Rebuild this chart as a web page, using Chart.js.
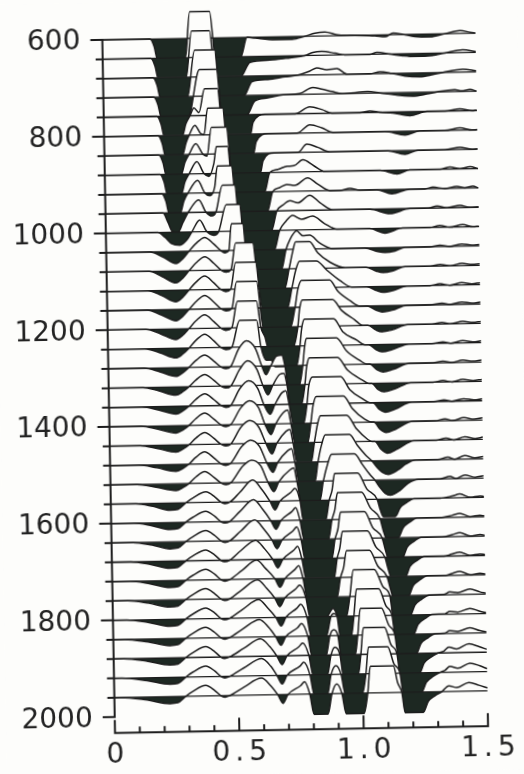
<!DOCTYPE html>
<html>
<head>
<meta charset="utf-8">
<script src="https://cdn.jsdelivr.net/npm/chart.js@4/dist/chart.umd.min.js"></script>
<style>
  html, body { margin: 0; padding: 0; background: #fdfdfb; overflow: hidden; }
  #plot { display: block; transform: rotate(-1.05deg); transform-origin: 50% 50%; }
</style>
</head>
<body>
<canvas id="plot" width="524" height="774"></canvas>
<script>
// VSP section, variable-area wiggle display.
// Each trace: [time (s), amplitude] pairs; amplitude in units of the trace spacing,
// positive = upward swing (open), negative = downward swing (filled).
const P = 1.38;   // clip level of positive swings
const N = -1.05;  // clip level of negative swings
const traceGap = 40;

const depths = [600, 640, 680, 720, 760, 800, 840, 880, 920, 960, 1000, 1040, 1080, 1120,
  1160, 1200, 1240, 1280, 1320, 1360, 1400, 1440, 1480, 1520, 1560, 1600, 1640, 1680,
  1720, 1760, 1800, 1840, 1880, 1920, 1960];

const tr600 = [[0,0],[0.192,0],[0.208,-0.4],[0.220,N],[0.332,N],[0.353,P],[0.433,P],[0.453,N],[0.554,N],[0.582,0],[0.614,-0.05],[0.694,-0.15],[0.763,-0.15],[0.815,0],[0.855,0.15],[0.895,0.2],[0.944,0.05],[0.996,0],[1.096,-0.05],[1.137,-0.1],[1.169,0.08],[1.209,0],[1.257,-0.12],[1.318,-0.15],[1.378,0],[1.438,0.15],[1.479,0.05],[1.5,0]];
const tr640 = [[0,0],[0.194,0],[0.210,-0.4],[0.222,N],[0.334,N],[0.359,P],[0.431,P],[0.451,N],[0.552,N],[0.592,-0.3],[0.672,-0.2],[0.753,-0.1],[0.813,0],[0.845,0.15],[0.881,0.2],[0.934,0.1],[0.974,0],[1.074,0],[1.103,0.1],[1.155,0],[1.207,-0.1],[1.255,-0.15],[1.324,-0.12],[1.376,0],[1.448,0.15],[1.5,0.05]];
const tr680 = [[0,0],[0.201,0],[0.217,-0.4],[0.229,N],[0.338,N],[0.370,P],[0.450,P],[0.470,N],[0.563,N],[0.599,-0.3],[0.663,-0.2],[0.732,-0.08],[0.784,0],[0.832,0.2],[0.860,0.35],[0.901,0.25],[0.941,0.3],[0.981,0],[1.073,0],[1.114,0.1],[1.162,0],[1.214,-0.15],[1.274,-0.2],[1.327,-0.1],[1.367,0],[1.447,0.15],[1.5,0.05]];
const tr720 = [[0,0],[0.203,0],[0.219,-0.4],[0.231,N],[0.340,N],[0.388,P],[0.456,P],[0.476,N],[0.573,N],[0.609,-0.3],[0.661,-0.15],[0.722,0],[0.790,0.05],[0.842,0.35],[0.878,0.25],[0.919,0.12],[0.959,0],[1.063,0.08],[1.112,0],[1.192,-0.15],[1.244,-0.2],[1.301,-0.1],[1.341,0],[1.413,0.1],[1.441,0.03],[1.474,0.1],[1.5,0]];
const tr760 = [[0,0],[0.214,0],[0.230,-0.4],[0.242,N],[0.314,N],[0.330,-0.4],[0.347,0],[0.363,0.4],[0.383,0.15],[0.407,P],[0.459,P],[0.479,N],[0.588,N],[0.600,-0.4],[0.648,0],[0.769,0],[0.829,0.35],[0.877,0.2],[0.918,0],[1.030,0],[1.070,0.08],[1.111,0],[1.163,-0.05],[1.231,-0.2],[1.300,0],[1.372,0],[1.432,0.1],[1.481,0],[1.5,0.02]];
const tr800 = [[0,0],[0.217,0],[0.233,-0.4],[0.245,N],[0.313,N],[0.329,-0.4],[0.342,0],[0.366,0.5],[0.390,0.05],[0.402,0.02],[0.418,P],[0.478,P],[0.498,N],[0.599,N],[0.611,-0.4],[0.659,0],[0.776,0],[0.828,0.42],[0.876,0.25],[0.921,0],[1.130,0],[1.210,-0.2],[1.270,0],[1.371,0],[1.431,0.12],[1.480,0],[1.5,0.02]];
const tr840 = [[0,0],[0.219,0],[0.235,-0.4],[0.247,N],[0.307,N],[0.323,-0.4],[0.340,0],[0.368,0.55],[0.396,0],[0.412,-0.1],[0.432,P],[0.492,P],[0.512,N],[0.625,N],[0.637,-0.4],[0.681,0],[0.778,0],[0.814,0.42],[0.858,0.25],[0.907,0],[1.140,0],[1.208,-0.2],[1.260,0],[1.369,0],[1.429,0.12],[1.478,0],[1.5,0.02]];
const tr880 = [[0,0],[0.222,0],[0.238,-0.4],[0.250,N],[0.306,N],[0.322,-0.4],[0.339,0],[0.371,0.62],[0.399,0],[0.419,-0.15],[0.439,0.5],[0.451,P],[0.495,P],[0.515,N],[0.640,N],[0.664,0],[0.696,0.15],[0.733,0.3],[0.761,0.32],[0.797,0.62],[0.841,0.3],[0.885,0],[1.107,0],[1.175,-0.2],[1.227,0],[1.348,0],[1.388,0.1],[1.428,0.02],[1.469,0.1],[1.5,0]];
const tr920 = [[0,0],[0.228,0],[0.244,-0.4],[0.256,N],[0.300,N],[0.316,-0.4],[0.333,0],[0.373,0.65],[0.401,0],[0.421,-0.15],[0.441,0.3],[0.453,P],[0.509,P],[0.530,N],[0.650,N],[0.674,0],[0.702,0.2],[0.731,0.36],[0.763,0.3],[0.815,0.68],[0.855,0.35],[0.904,0],[0.944,0],[0.984,0.1],[1.024,0],[1.093,0],[1.153,-0.22],[1.225,0],[1.286,0],[1.318,0.08],[1.366,0],[1.414,0.1],[1.446,0.02],[1.479,0.1],[1.5,0]];
const tr960 = [[0,0],[0.231,0],[0.251,-0.5],[0.267,-0.95],[0.291,-1.0],[0.311,-0.5],[0.332,0],[0.376,0.65],[0.404,0],[0.428,-0.2],[0.444,0],[0.472,P],[0.521,P],[0.541,N],[0.665,N],[0.689,0],[0.714,0.3],[0.742,0.52],[0.774,0.4],[0.822,0.78],[0.862,0.4],[0.915,0],[1.063,0],[1.144,-0.25],[1.224,0],[1.297,0],[1.333,0.1],[1.373,0],[1.425,0.12],[1.466,0],[1.5,0.03]];
const tr1000 = [[0,0],[0.209,0],[0.237,-0.25],[0.265,-0.6],[0.297,-0.68],[0.326,-0.4],[0.346,0],[0.378,0.6],[0.406,0],[0.434,-0.2],[0.454,0],[0.486,P],[0.539,P],[0.559,N],[0.675,N],[0.699,0],[0.724,0.45],[0.752,0.75],[0.788,0.55],[0.832,0.7],[0.880,0.3],[0.929,0],[1.061,0],[1.122,-0.25],[1.194,0],[1.303,0],[1.343,0.1],[1.383,0],[1.435,0.12],[1.476,0],[1.5,0.02]];
const tr1040 = [[0,0],[0.176,0],[0.228,-0.28],[0.280,-0.62],[0.308,-0.37],[0.333,0],[0.361,0.39],[0.397,0.7],[0.433,0.35],[0.461,0],[0.477,-0.12],[0.493,0],[0.505,P],[0.550,P],[0.570,N],[0.703,N],[0.723,0],[0.739,0.5],[0.767,0.95],[0.791,0.7],[0.819,0.72],[0.859,0.3],[0.912,0],[1.040,0],[1.093,-0.2],[1.121,-0.25],[1.161,-0.18],[1.201,0],[1.302,0],[1.342,0.08],[1.382,0],[1.430,0.12],[1.471,0.05],[1.5,0.08]];
const tr1080 = [[0,0],[0.171,0],[0.223,-0.28],[0.279,-0.62],[0.307,-0.37],[0.332,0],[0.360,0.39],[0.396,0.7],[0.432,0.35],[0.460,0],[0.480,-0.12],[0.500,0],[0.521,P],[0.589,P],[0.613,N],[0.714,N],[0.734,0],[0.750,0.9],[0.762,P],[0.818,P],[0.850,0.8],[0.899,0.3],[0.959,0],[1.043,0],[1.084,-0.2],[1.112,-0.28],[1.152,-0.2],[1.200,0],[1.301,0],[1.341,0.08],[1.381,0],[1.429,0.12],[1.470,0.05],[1.5,0.08]];
const tr1120 = [[0,0],[0.165,0],[0.221,-0.27],[0.277,-0.6],[0.305,-0.36],[0.330,0],[0.358,0.39],[0.394,0.7],[0.430,0.35],[0.458,0],[0.478,-0.12],[0.498,0],[0.519,P],[0.599,P],[0.623,N],[0.724,N],[0.744,0],[0.760,0.9],[0.776,P],[0.844,P],[0.885,0.9],[0.937,0.35],[0.985,0],[1.045,0],[1.086,-0.22],[1.110,-0.3],[1.150,-0.22],[1.206,0],[1.299,0],[1.339,0.08],[1.379,0],[1.427,0.12],[1.468,0.05],[1.5,0.1]];
const tr1160 = [[0,0],[0.160,0],[0.216,-0.26],[0.276,-0.58],[0.304,-0.35],[0.329,0],[0.357,0.39],[0.393,0.7],[0.429,0.35],[0.457,0],[0.477,-0.12],[0.501,0],[0.522,P],[0.602,P],[0.626,N],[0.735,N],[0.755,0],[0.767,0.9],[0.783,P],[0.896,P],[0.928,0.8],[0.976,0.3],[1.016,0],[1.044,0],[1.081,-0.22],[1.105,-0.32],[1.145,-0.24],[1.205,0],[1.298,0],[1.346,0.08],[1.378,0],[1.426,0.12],[1.467,0.05],[1.5,0.1]];
const tr1200 = [[0,0],[0.154,0],[0.214,-0.25],[0.274,-0.55],[0.302,-0.33],[0.327,0],[0.355,0.39],[0.391,0.7],[0.427,0.35],[0.455,0],[0.475,-0.12],[0.499,0],[0.524,P],[0.600,P],[0.616,0],[0.632,-0.5],[0.644,N],[0.745,N],[0.765,0],[0.773,0.9],[0.785,P],[0.906,P],[0.942,0.8],[0.994,0.3],[1.026,0],[1.046,0],[1.079,-0.25],[1.103,-0.35],[1.143,-0.26],[1.207,0],[1.304,0],[1.344,0.08],[1.376,0],[1.428,0.12],[1.469,0.05],[1.5,0.1]];
const tr1240 = [[0,0],[0.149,0],[0.209,-0.22],[0.273,-0.5],[0.301,-0.3],[0.326,0],[0.354,0.39],[0.390,0.7],[0.426,0.35],[0.454,0],[0.474,-0.12],[0.498,0],[0.531,P],[0.599,P],[0.615,0],[0.635,-0.7],[0.655,-0.7],[0.671,N],[0.756,N],[0.772,0],[0.780,0.9],[0.792,P],[0.909,P],[0.945,0.7],[1.001,0.25],[1.033,0],[1.049,0],[1.078,-0.27],[1.102,-0.38],[1.142,-0.28],[1.210,0],[1.303,0],[1.347,0.08],[1.379,0],[1.427,0.12],[1.468,0.05],[1.5,0.1]];
const tr1280 = [[0,0],[0.143,0],[0.207,-0.2],[0.271,-0.45],[0.299,-0.27],[0.324,0],[0.352,0.34],[0.388,0.62],[0.424,0.31],[0.452,0],[0.472,-0.1],[0.492,0],[0.525,0.9],[0.557,1.32],[0.593,0.9],[0.617,0],[0.633,-0.45],[0.653,0],[0.677,0.5],[0.698,0.55],[0.710,0],[0.722,N],[0.766,N],[0.782,0],[0.790,0.9],[0.798,P],[0.919,P],[0.959,0.7],[1.011,0.2],[1.039,0],[1.051,0],[1.080,-0.3],[1.104,-0.42],[1.144,-0.3],[1.212,0],[1.305,0],[1.345,0.08],[1.381,0],[1.425,0.12],[1.466,0.05],[1.5,0.1]];
const tr1320 = [[0,0],[0.138,0],[0.202,-0.19],[0.270,-0.42],[0.298,-0.25],[0.323,0],[0.351,0.34],[0.387,0.62],[0.423,0.31],[0.451,0],[0.471,-0.1],[0.491,0],[0.528,0.85],[0.560,1.28],[0.596,0.85],[0.620,0],[0.640,-0.5],[0.660,0],[0.688,0.55],[0.705,0.6],[0.717,0],[0.729,N],[0.773,N],[0.789,0],[0.797,0.9],[0.809,P],[0.922,P],[0.962,0.7],[1.018,0.2],[1.046,0],[1.058,0],[1.083,-0.32],[1.107,-0.45],[1.147,-0.32],[1.215,0],[1.304,0],[1.344,0.08],[1.380,0],[1.424,0.12],[1.465,0.05],[1.5,0.1]];
const tr1360 = [[0,0],[0.133,0],[0.201,-0.18],[0.269,-0.4],[0.297,-0.24],[0.322,0],[0.350,0.34],[0.386,0.62],[0.422,0.31],[0.450,0],[0.470,-0.1],[0.490,0],[0.527,0.85],[0.563,1.25],[0.599,0.85],[0.623,0],[0.647,-0.5],[0.667,0],[0.696,0.6],[0.712,0.7],[0.724,0],[0.740,N],[0.780,N],[0.796,0],[0.804,0.9],[0.820,P],[0.933,P],[0.969,0.7],[1.021,0.2],[1.049,0],[1.061,0],[1.086,-0.35],[1.110,-0.5],[1.150,-0.35],[1.218,0],[1.307,0],[1.347,0.08],[1.379,0],[1.427,0.12],[1.468,0.05],[1.5,0.1]];
const tr1400 = [[0,0],[0.127,0],[0.195,-0.17],[0.267,-0.38],[0.295,-0.23],[0.320,0],[0.348,0.34],[0.384,0.62],[0.420,0.31],[0.448,0],[0.468,-0.1],[0.488,0],[0.529,0.85],[0.565,1.22],[0.601,0.85],[0.625,0],[0.649,-0.55],[0.669,0],[0.702,0.6],[0.718,0.7],[0.730,0],[0.746,N],[0.795,N],[0.810,0],[0.820,0.9],[0.834,P],[0.943,P],[0.979,0.7],[1.027,0.15],[1.055,0],[1.063,0],[1.088,-0.38],[1.112,-0.55],[1.152,-0.38],[1.220,0],[1.309,0],[1.349,0.1],[1.381,0],[1.425,0.14],[1.466,0.05],[1.5,0.12]];
const tr1440 = [[0,0],[0.122,0],[0.194,-0.17],[0.266,-0.37],[0.294,-0.22],[0.319,0],[0.347,0.34],[0.383,0.62],[0.419,0.31],[0.447,0],[0.467,-0.1],[0.487,0],[0.528,0.85],[0.564,1.2],[0.600,0.85],[0.628,0],[0.652,-0.55],[0.672,0],[0.709,0.6],[0.725,0.7],[0.737,0],[0.753,N],[0.808,N],[0.823,0],[0.836,0.9],[0.849,P],[0.954,P],[0.994,0.65],[1.038,0.1],[1.054,0],[1.066,0],[1.091,-0.42],[1.115,-0.62],[1.155,-0.42],[1.223,0],[1.312,0],[1.352,0.1],[1.384,0],[1.428,0.15],[1.469,0.05],[1.5,0.12]];
const tr1480 = [[0,0],[0.116,0],[0.188,-0.16],[0.264,-0.36],[0.292,-0.22],[0.317,0],[0.345,0.34],[0.381,0.62],[0.417,0.31],[0.445,0],[0.465,-0.1],[0.485,0],[0.530,0.85],[0.566,1.18],[0.602,0.85],[0.630,0],[0.654,-0.5],[0.674,0],[0.715,0.6],[0.731,0.7],[0.743,0],[0.759,N],[0.822,N],[0.836,0],[0.852,0.9],[0.867,P],[0.964,P],[0.996,0.8],[1.028,0.3],[1.052,0],[1.073,-0.35],[1.093,-0.6],[1.117,-0.72],[1.157,-0.5],[1.189,-0.2],[1.229,0],[1.318,0],[1.358,0.12],[1.386,0],[1.426,0.18],[1.467,0.05],[1.5,0.12]];
const tr1520 = [[0,0],[0.106,0],[0.183,-0.16],[0.263,-0.35],[0.291,-0.21],[0.316,0],[0.344,0.33],[0.380,0.6],[0.416,0.3],[0.444,0],[0.464,-0.1],[0.484,0],[0.533,0.85],[0.569,1.15],[0.605,0.85],[0.633,0],[0.657,-0.5],[0.677,0],[0.722,0.6],[0.738,0.7],[0.750,0],[0.766,N],[0.840,N],[0.856,0],[0.875,0.9],[0.891,P],[0.983,P],[1.015,0.8],[1.043,0.3],[1.063,0],[1.084,-0.4],[1.104,-0.7],[1.124,-0.8],[1.164,-0.55],[1.196,-0.2],[1.236,0],[1.325,0],[1.365,0.12],[1.389,0],[1.425,0.18],[1.466,0.05],[1.5,0.12]];
const tr1560 = [[0,0],[0.101,0],[0.170,-0.15],[0.238,-0.36],[0.270,-0.32],[0.302,0],[0.331,0.25],[0.383,0.55],[0.419,0.28],[0.443,0],[0.459,-0.08],[0.479,0],[0.520,0.5],[0.572,1.12],[0.608,0.62],[0.640,0],[0.660,-0.45],[0.680,0],[0.725,0.45],[0.741,0.65],[0.761,0],[0.773,N],[0.862,N],[0.878,0],[0.890,0.5],[0.902,P],[0.994,P],[1.030,0.55],[1.071,0],[1.083,-0.55],[1.095,-0.9],[1.143,-0.9],[1.163,-0.45],[1.191,-0.18],[1.219,0],[1.324,0],[1.372,0.1],[1.404,0.2],[1.445,0.02],[1.485,0.08],[1.5,0.05]];
const tr1600 = [[0,0],[0.091,0],[0.164,-0.15],[0.236,-0.36],[0.268,-0.32],[0.300,0],[0.329,0.25],[0.381,0.55],[0.417,0.28],[0.441,0],[0.457,-0.08],[0.477,0],[0.518,0.5],[0.574,1.1],[0.610,0.6],[0.642,0],[0.662,-0.45],[0.683,0],[0.727,0.45],[0.743,0.65],[0.759,0],[0.775,N],[0.872,N],[0.888,0],[0.900,0.5],[0.912,P],[1.008,P],[1.044,0.55],[1.081,0],[1.093,-0.6],[1.105,-1.0],[1.153,-1.0],[1.173,-0.5],[1.201,-0.2],[1.229,0],[1.322,0],[1.370,0.1],[1.402,0.2],[1.443,0.02],[1.483,0.08],[1.5,0.05]];
const tr1640 = [[0,0],[0.086,0],[0.163,-0.15],[0.235,-0.36],[0.267,-0.32],[0.299,0],[0.328,0.25],[0.380,0.55],[0.416,0.28],[0.440,0],[0.456,-0.08],[0.476,0],[0.521,0.5],[0.577,1.05],[0.613,0.58],[0.645,0],[0.665,-0.45],[0.686,0],[0.730,0.45],[0.746,0.65],[0.762,0],[0.778,N],[0.884,N],[0.899,0],[0.911,0.5],[0.923,P],[1.019,P],[1.051,0.55],[1.088,0],[1.100,-0.6],[1.112,N],[1.168,N],[1.188,-0.5],[1.216,-0.2],[1.244,0],[1.329,0],[1.369,0.1],[1.401,0.2],[1.442,0.02],[1.482,0.08],[1.5,0.05]];
const tr1680 = [[0,0],[0.076,0],[0.157,-0.15],[0.233,-0.36],[0.265,-0.32],[0.297,0],[0.326,0.25],[0.378,0.55],[0.414,0.28],[0.438,0],[0.454,-0.08],[0.474,0],[0.519,0.48],[0.579,1.0],[0.615,0.55],[0.647,0],[0.667,-0.45],[0.688,0],[0.732,0.45],[0.748,0.65],[0.764,0],[0.780,N],[0.892,N],[0.906,0],[0.917,0.5],[0.929,P],[1.029,P],[1.062,0.55],[1.098,0],[1.110,-0.6],[1.122,N],[1.178,N],[1.198,-0.5],[1.226,-0.2],[1.255,0],[1.335,0],[1.367,0.1],[1.399,0.2],[1.440,0.02],[1.480,0.08],[1.5,0.05]];
const tr1720 = [[0,0],[0.071,0],[0.152,-0.15],[0.232,-0.36],[0.264,-0.32],[0.296,0],[0.325,0.25],[0.377,0.55],[0.413,0.28],[0.437,0],[0.453,-0.08],[0.473,0],[0.522,0.45],[0.582,0.97],[0.618,0.53],[0.654,0],[0.674,-0.45],[0.695,0],[0.735,0.45],[0.751,0.65],[0.767,0],[0.783,N],[0.902,N],[0.918,0],[0.931,0.5],[0.944,P],[1.036,P],[1.069,0.55],[1.105,0],[1.117,-0.6],[1.129,N],[1.189,N],[1.209,-0.5],[1.237,-0.2],[1.266,0],[1.342,0],[1.366,0.1],[1.398,0.2],[1.439,0.02],[1.479,0.08],[1.5,0.05]];
const tr1760 = [[0,0],[0.061,0],[0.146,-0.15],[0.230,-0.36],[0.262,-0.32],[0.294,0],[0.323,0.25],[0.375,0.55],[0.411,0.28],[0.435,0],[0.451,-0.08],[0.471,0],[0.520,0.45],[0.584,0.95],[0.620,0.52],[0.652,0],[0.672,-0.45],[0.693,0],[0.737,0.45],[0.753,0.65],[0.777,0],[0.793,N],[0.857,N],[0.886,-0.6],[0.910,N],[0.938,N],[0.954,0],[0.970,P],[1.054,P],[1.087,0.5],[1.115,0],[1.127,N],[1.195,N],[1.215,-0.5],[1.243,-0.2],[1.272,0],[1.332,0.02],[1.356,0.15],[1.388,0.1],[1.437,0.28],[1.477,0.12],[1.5,0.05]];
const tr1800 = [[0,0],[0.056,0],[0.145,-0.15],[0.229,-0.36],[0.261,-0.32],[0.293,0],[0.322,0.25],[0.374,0.55],[0.410,0.28],[0.434,0],[0.450,-0.08],[0.470,0],[0.523,0.45],[0.587,0.93],[0.623,0.5],[0.655,0],[0.676,-0.45],[0.696,0],[0.740,0.45],[0.756,0.65],[0.780,0],[0.796,N],[0.856,N],[0.877,0],[0.889,0.15],[0.901,0],[0.913,N],[0.957,N],[0.969,0],[0.981,P],[1.070,P],[1.098,0.5],[1.122,0],[1.134,N],[1.206,N],[1.226,-0.5],[1.255,-0.2],[1.283,0],[1.335,0.02],[1.355,0.15],[1.387,0.1],[1.436,0.28],[1.476,0.12],[1.5,0.05]];
const tr1840 = [[0,0],[0.046,0],[0.139,-0.15],[0.227,-0.36],[0.259,-0.32],[0.291,0],[0.320,0.25],[0.372,0.55],[0.408,0.28],[0.432,0],[0.448,-0.08],[0.468,0],[0.521,0.43],[0.589,0.9],[0.625,0.5],[0.653,0],[0.674,-0.45],[0.694,0],[0.742,0.45],[0.758,0.65],[0.782,0],[0.798,N],[0.854,N],[0.871,0],[0.887,0.3],[0.903,0],[0.915,N],[0.971,N],[0.983,0],[0.995,P],[1.080,P],[1.108,0.5],[1.132,0],[1.144,N],[1.216,N],[1.236,-0.5],[1.265,-0.2],[1.293,0],[1.333,0.02],[1.353,0.15],[1.385,0.1],[1.434,0.28],[1.474,0.12],[1.5,0.05]];
const tr1880 = [[0,0],[0.041,0],[0.138,-0.15],[0.226,-0.36],[0.258,-0.32],[0.290,0],[0.319,0.25],[0.371,0.55],[0.407,0.28],[0.431,0],[0.447,-0.08],[0.467,0],[0.524,0.43],[0.592,0.9],[0.628,0.5],[0.656,0],[0.677,-0.45],[0.697,0],[0.745,0.45],[0.761,0.65],[0.785,0],[0.801,N],[0.858,N],[0.874,0],[0.890,0.4],[0.910,0],[0.922,N],[0.982,N],[0.994,0],[1.006,P],[1.091,P],[1.115,0.5],[1.139,0],[1.151,N],[1.227,N],[1.248,-0.5],[1.276,-0.2],[1.304,0],[1.328,0.1],[1.348,0.3],[1.380,0.2],[1.429,0.45],[1.469,0.3],[1.5,0.15]];
const tr1920 = [[0,0],[0.032,0],[0.133,-0.15],[0.225,-0.36],[0.257,-0.32],[0.289,0],[0.318,0.25],[0.370,0.55],[0.406,0.28],[0.430,0],[0.446,-0.08],[0.466,0],[0.523,0.42],[0.595,0.88],[0.631,0.48],[0.655,0],[0.676,-0.45],[0.696,0],[0.748,0.45],[0.764,0.65],[0.788,0],[0.804,N],[0.857,N],[0.873,0],[0.893,0.45],[0.913,0],[0.929,N],[0.997,N],[1.013,0],[1.025,P],[1.102,P],[1.126,0.5],[1.150,0],[1.162,N],[1.234,N],[1.255,-0.5],[1.283,-0.2],[1.311,0],[1.331,0.1],[1.351,0.3],[1.383,0.2],[1.432,0.45],[1.472,0.3],[1.5,0.15]];
const tr1960 = [[0,0],[0.026,0],[0.131,-0.15],[0.223,-0.36],[0.255,-0.32],[0.287,0],[0.316,0.25],[0.368,0.55],[0.404,0.28],[0.428,0],[0.444,-0.08],[0.464,0],[0.521,0.42],[0.593,0.87],[0.629,0.48],[0.657,0],[0.678,-0.45],[0.698,0],[0.750,0.45],[0.766,0.65],[0.786,0],[0.802,N],[0.858,N],[0.875,0],[0.895,0.5],[0.915,0],[0.931,N],[1.003,N],[1.019,0],[1.031,P],[1.124,P],[1.140,0.5],[1.156,0],[1.168,N],[1.241,N],[1.261,-0.5],[1.289,-0.2],[1.317,0],[1.345,0.3],[1.377,0.2],[1.426,0.45],[1.466,0.3],[1.5,0.15]];

const traces = [tr600, tr640, tr680, tr720, tr760, tr800, tr840, tr880, tr920, tr960, tr1000,
  tr1040, tr1080, tr1120, tr1160, tr1200, tr1240, tr1280, tr1320, tr1360, tr1400, tr1440,
  tr1480, tr1520, tr1560, tr1600, tr1640, tr1680, tr1720, tr1760, tr1800, tr1840, tr1880,
  tr1920, tr1960];

// axes
const timeTicks = [0, 0.1, 0.2, 0.3, 0.4, 0.5, 0.6, 0.7, 0.8, 0.9, 1.0, 1.1, 1.2, 1.3, 1.4, 1.5];
const timeLabelled = [0, 0.5, 1.0, 1.5];
const timeLabels = ['0', '0.5', '1.0', '1.5'];
const depthLabelled = [600, 800, 1000, 1200, 1400, 1600, 1800, 2000];
const depthLabels = ['600', '800', '1000', '1200', '1400', '1600', '1800', '2000'];
const depthTicks = depths.concat([2000]);

const PAPER = '#fdfdfb';
const INK = '#1c1c1c';
const SHADE = '#1d2822';

const datasets = [];
depths.forEach((d, i) => {
  const order = depths.length - i;   // shallow traces underneath, deeper ones drawn over them
  datasets.push({
    data: [{x: 0, y: d}, {x: 1.5, y: d}],
    borderColor: INK, borderWidth: 1.3, pointRadius: 0, fill: false,
    order, clip: false
  });
  datasets.push({
    data: traces[i].map(([t, a]) => ({x: t, y: d - a * traceGap})),
    borderColor: INK, borderWidth: 1.5, pointRadius: 0,
    cubicInterpolationMode: 'monotone',
    fill: {target: {value: d}, above: PAPER, below: SHADE},
    order, clip: false
  });
});

const paperPlugin = {
  id: 'paper',
  beforeDraw(chart) {
    const c = chart.ctx;
    c.save();
    c.fillStyle = PAPER;
    c.fillRect(0, 0, chart.width, chart.height);
    c.restore();
  }
};

const axesPlugin = {
  id: 'plotterAxes',
  afterDraw(chart) {
    const c = chart.ctx;
    const xs = chart.scales.x, ys = chart.scales.y;
    const x0 = xs.getPixelForValue(0);
    const yTop = ys.getPixelForValue(600), yBot = ys.getPixelForValue(2000);
    const yAx = yBot + 16;
    c.save();
    c.strokeStyle = INK;
    c.fillStyle = '#222';
    c.lineWidth = 2;
    c.lineCap = 'butt';
    // depth axis
    c.beginPath();
    c.moveTo(x0, yTop - 1);
    c.lineTo(x0, yBot + 1);
    depthTicks.forEach(d => {
      const y = ys.getPixelForValue(d);
      const len = depthLabelled.includes(d) ? 12 : 7;
      c.moveTo(x0 - len, y);
      c.lineTo(x0, y);
    });
    c.stroke();
    c.font = '28px "DejaVu Sans"';
    c.textAlign = 'right';
    c.textBaseline = 'middle';
    depthLabelled.forEach((d, k) => {
      c.fillText(depthLabels[k], x0 - 22, ys.getPixelForValue(d) + 2);
    });
    // time axis
    c.beginPath();
    c.moveTo(xs.getPixelForValue(0) - 1, yAx);
    c.lineTo(xs.getPixelForValue(1.5) + 1, yAx);
    timeTicks.forEach(t => {
      const x = xs.getPixelForValue(t);
      const len = timeLabelled.some(v => Math.abs(v - t) < 1e-6) ? 13 : 6;
      c.moveTo(x, yAx);
      c.lineTo(x, yAx - len);
    });
    c.stroke();
    c.textAlign = 'center';
    c.textBaseline = 'alphabetic';
    timeLabelled.forEach((t, k) => {
      const txt = timeLabels[k];
      let shift = 0;
      if (txt.length > 1 && 'letterSpacing' in c) { c.letterSpacing = '5px'; shift = 2.5; }
      else if ('letterSpacing' in c) { c.letterSpacing = '0px'; }
      c.fillText(txt, xs.getPixelForValue(t) + shift, yAx + 30);
    });
    c.restore();
  }
};

new Chart(document.getElementById('plot'), {
  type: 'line',
  data: {datasets},
  options: {
    responsive: false,
    devicePixelRatio: 1,
    animation: false,
    events: [],
    layout: {padding: {left: 108.7, right: 42.2, top: 8, bottom: 54.86}},
    scales: {
      x: {type: 'linear', min: 0, max: 1.5, display: false},
      y: {type: 'linear', min: 539.8, max: 2010, reverse: true, display: false}
    },
    plugins: {legend: {display: false}, tooltip: {enabled: false}, filler: {drawTime: 'beforeDatasetDraw'}}
  },
  plugins: [paperPlugin, axesPlugin]
});
</script>
</body>
</html>
